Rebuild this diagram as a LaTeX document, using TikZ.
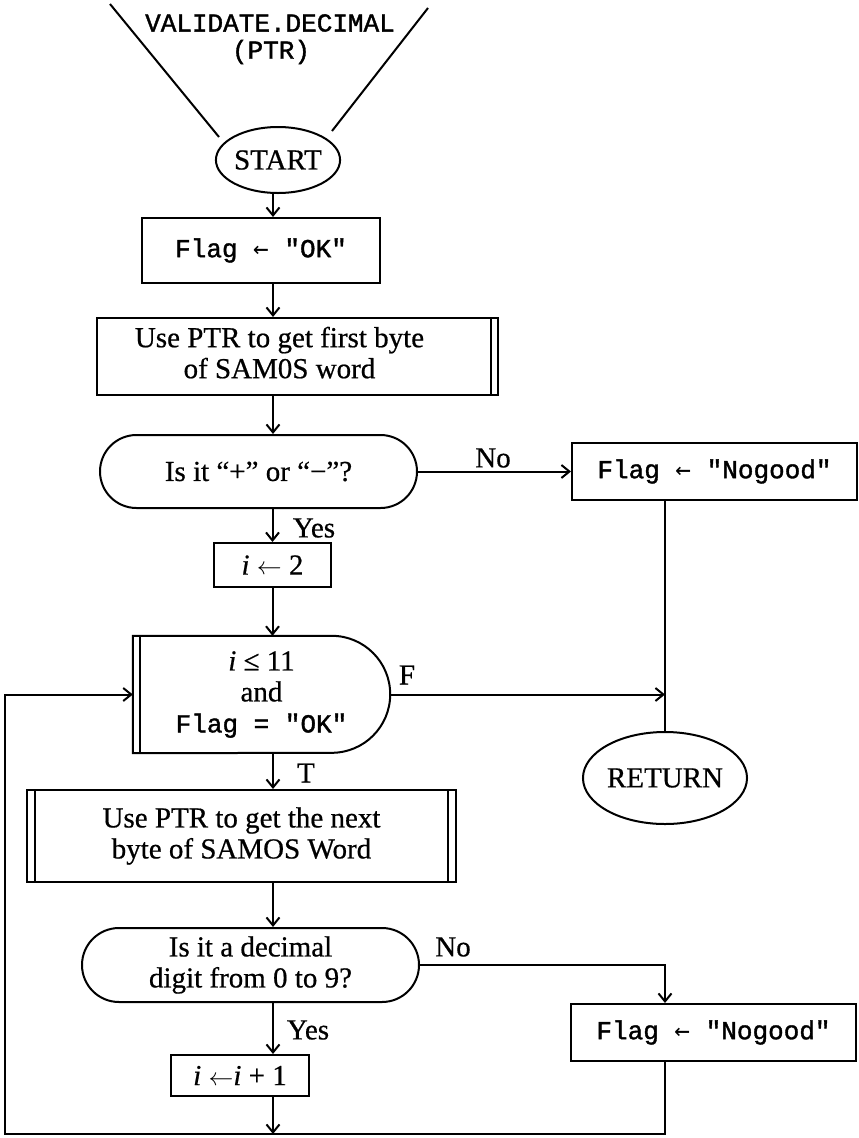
\documentclass[tikz,border=0pt]{standalone}
\usepackage{fontspec}
\setmainfont{Liberation Serif}[FakeBold=0.6]
\setmonofont{Liberation Mono}[FakeBold=1.4]
\newfontfamily\arrowfont{DejaVu Sans Mono}
\usetikzlibrary{shapes.geometric,shapes.misc,arrows.meta,calc}
\begin{document}
\begin{tikzpicture}[x=1pt,y=-1pt,
  every node/.style={font=\fontsize{29}{31}\selectfont},
  ln/.style={line width=2pt},
  arr/.style={line width=2pt,-{Straight Barb[length=8pt,width=13pt]}},
  procbox/.style={draw,line width=2pt,rectangle,inner sep=0pt,align=center},
  termnode/.style={draw,line width=2pt,ellipse,inner sep=0pt},
  stadnode/.style={draw,line width=2pt,rounded rectangle,rounded rectangle arc length=180,inner sep=0pt,align=center},
  lbl/.style={inner sep=0pt},
  mono/.style={font=\ttfamily\fontsize{26}{31}\selectfont}]
\fill[white] (0,0) rectangle (859,1138);
\useasboundingbox (0,0) rectangle (859,1138);
\coordinate (ax) at (273,0);
\coordinate (rx) at (665,0);
% title
\node[mono,inner sep=0pt] (title) at (270,23) {VALIDATE.DECIMAL};
\node[mono,inner sep=0pt] (ptr) at (271,52) {(PTR)};
\node[termnode,minimum width=120pt,minimum height=66pt] (start) at (278,160) {START};
\coordinate (vl0) at (110,4);
\coordinate (vl1) at (219,137);
\coordinate (vr0) at (428,8);
\coordinate (vr1) at (332,131);
\draw[ln] (vl0) -- (vl1);
\draw[ln] (vr0) -- (vr1);
% flag ok
\node[procbox,mono,minimum width=238pt,minimum height=65pt] (flagok) at (261,250.5) {Flag {\arrowfont←} "OK"};
\draw[arr] (start.south -| ax) -- (flagok.north -| ax);
% first byte
\node[procbox,minimum width=401pt,minimum height=77pt] (get1) at (297.5,356.5)
  {\begin{tabular}{@{}c@{}}Use PTR to get first byte\\of SAM0S word\end{tabular}\hspace*{36pt}};
\draw[ln] ([xshift=-8pt]get1.north east) -- ([xshift=-8pt]get1.south east);
\draw[arr] (flagok.south -| ax) -- (get1.north -| ax);
% decision 1
\node[stadnode,minimum width=317pt,minimum height=73pt] (dec1) at (258.5,471.5) {Is it “+” or “−”?};
\draw[arr] (get1.south -| ax) -- (dec1.north -| ax);
\node[procbox,mono,minimum width=285pt,minimum height=57pt] (flagng1) at (714.5,471.5) {Flag {\arrowfont←} "Nogood"};
\draw[arr] (dec1.east) -- (flagng1.west);
\node[lbl] (no1) at (493,458) {No};
\node[lbl] (yes1) at (314,528) {Yes};
\node[procbox,minimum width=117pt,minimum height=44pt] (i2) at (272.5,565) {{\itshape i} $\leftarrow$ 2};
\draw[arr] (i2.north |- dec1.south) -- (i2.north);
% loop
\node[lbl,minimum width=257pt,minimum height=117pt,align=center] (loop) at (261.5,694.5)
  {{\itshape i} ≤ 11\\and\\{\ttfamily\fontsize{26}{31}\selectfont Flag = "OK"}};
\draw[ln] (loop.north west) -- ([xshift=-58.5pt]loop.north east)
  arc[start angle=90,end angle=-90,radius=58.5pt] -- (loop.south west) -- cycle;
\draw[ln] ([xshift=7pt]loop.north west) -- ([xshift=7pt]loop.south west);
\draw[arr] (i2.south) -- (i2.south |- loop.north);
% return
\node[termnode,minimum width=143pt,minimum height=92pt] (ret) at (665,778) {RETURN};
\draw[ln] (flagng1.south -| rx) -- (ret.north);
\coordinate (fj) at (ret.north |- loop.east);
\draw[arr] (loop.east) -- (fj);
\node[lbl] (flab) at (407,675) {F};
\node[lbl] (tlab) at (306,773) {T};
% next byte
\node[procbox,minimum width=429pt,minimum height=92pt] (get2) at (241.5,836)
  {Use PTR to get the next\\byte of SAMOS Word};
\draw[ln] ([xshift=9pt]get2.north west) -- ([xshift=9pt]get2.south west);
\draw[ln] ([xshift=-9pt]get2.north east) -- ([xshift=-9pt]get2.south east);
\draw[arr] (loop.south -| ax) -- (get2.north -| ax);
% decision 2
\node[stadnode,minimum width=337pt,minimum height=74pt] (dec2) at (250.5,965)
  {Is it a decimal\\digit from 0 to 9?};
\draw[arr] (get2.south -| ax) -- (dec2.north -| ax);
\node[procbox,mono,minimum width=285pt,minimum height=57pt] (flagng2) at (713.5,1032.5) {Flag {\arrowfont←} "Nogood"};
\draw[arr] (dec2.east) -| (flagng2.north -| rx);
\node[lbl] (no2) at (453,947) {No};
\node[lbl] (yes2) at (308,1030) {Yes};
\node[procbox,minimum width=138pt,minimum height=41pt] (i1) at (240,1075.5) {{\itshape i} $\leftarrow${\itshape i} + 1};
\draw[arr] (dec2.south -| ax) -- (i1.north -| ax);
\coordinate (bot) at (273,1134);
\coordinate (bl) at (5,1134);
\draw[arr] (i1.south -| ax) -- (bot);
\draw[arr] (flagng2.south -| rx) |- (bl) |- (loop.west);
\end{tikzpicture}
\end{document}
